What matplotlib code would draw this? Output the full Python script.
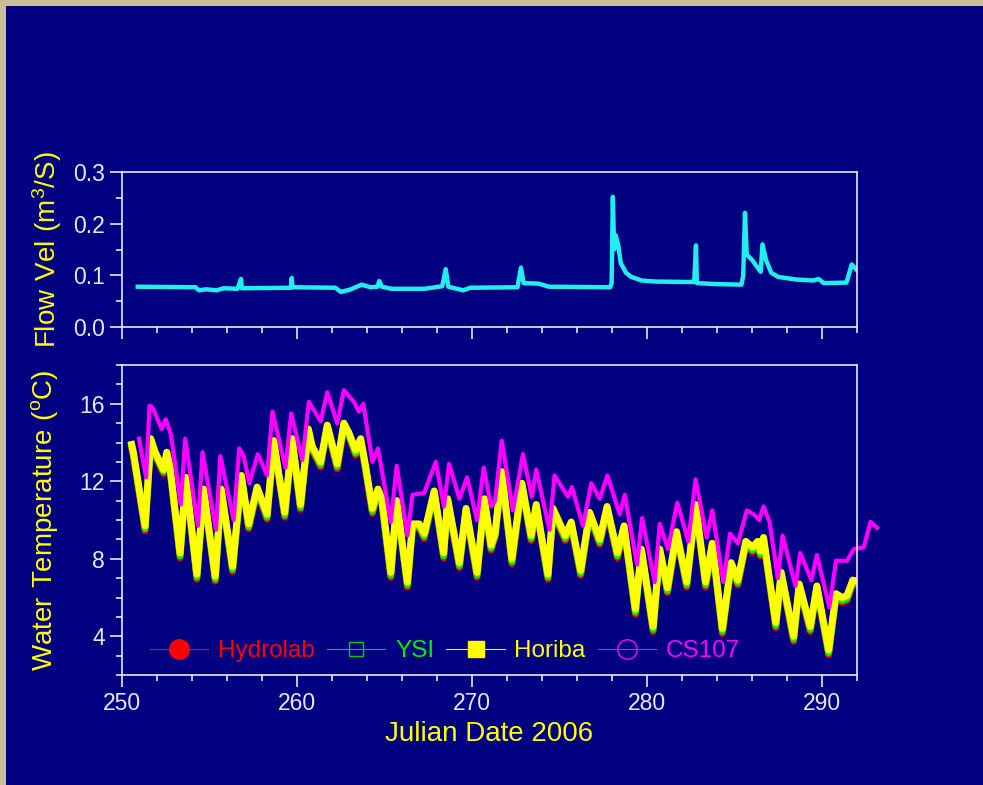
import matplotlib
matplotlib.use('Agg')
import matplotlib.pyplot as plt
from matplotlib.lines import Line2D
from matplotlib.patches import Rectangle
from matplotlib.ticker import MultipleLocator, FormatStrFormatter

plt.rcParams['font.family'] = ['Liberation Sans', 'DejaVu Sans']
plt.rcParams['mathtext.fontset'] = 'custom'
plt.rcParams['mathtext.rm'] = 'Liberation Sans'

# flow velocity (top panel)
flow_day = [250.9, 254.2, 254.4, 254.8, 255.4, 255.8, 256.6, 256.8, 256.85, 259.65,
            259.7, 259.75, 262.2, 262.5, 263.0, 263.7, 264.2, 264.6, 264.7, 264.85,
            265.4, 267.3, 268.3, 268.5, 268.65, 269.5, 269.9, 272.6, 272.8, 272.95,
            273.8, 274.4, 277.9, 277.98, 278.05, 278.12, 278.2, 278.35, 278.5, 278.8,
            279.1, 279.7, 280.5, 282.7, 282.8, 282.85, 284.0, 285.4, 285.5, 285.6,
            285.7, 286.0, 286.5, 286.6, 286.8, 287.1, 287.5, 288.5, 289.5, 289.8,
            290.1, 291.4, 291.7, 292.0]
flow_vel = [0.078, 0.077, 0.071, 0.073, 0.071, 0.075, 0.074, 0.093, 0.075, 0.076,
            0.095, 0.077, 0.076, 0.068, 0.072, 0.082, 0.077, 0.078, 0.089, 0.078,
            0.074, 0.074, 0.079, 0.112, 0.078, 0.071, 0.076, 0.077, 0.115, 0.085,
            0.084, 0.078, 0.077, 0.085, 0.252, 0.150, 0.178, 0.160, 0.124, 0.105,
            0.097, 0.090, 0.088, 0.087, 0.158, 0.085, 0.083, 0.082, 0.100, 0.221,
            0.140, 0.130, 0.107, 0.160, 0.130, 0.105, 0.097, 0.092, 0.090, 0.093,
            0.085, 0.086, 0.121, 0.110]

# water temperature, sondes share the same time stamps
sonde_day = [250.55, 250.65, 251.32, 251.64, 251.9, 252.37, 252.56, 252.75, 253.32, 253.65,
             254.28, 254.66, 255.33, 255.67, 256.32, 256.82, 257.24, 257.72, 258.29, 258.67,
             259.3, 259.72, 260.2, 260.65, 260.87, 261.35, 261.73, 262.3, 262.68, 262.97,
             263.35, 263.64, 263.92, 264.31, 264.63, 264.85, 265.36, 265.7, 266.31, 266.6,
             266.98, 267.27, 267.84, 268.38, 268.61, 269.28, 269.66, 270.29, 270.71, 271.09,
             271.32, 271.7, 272.28, 272.85, 273.38, 273.67, 274.34, 274.63, 275.33, 275.67,
             276.21, 276.72, 277.3, 277.72, 278.31, 278.69, 279.34, 279.68, 280.35, 280.73,
             281.17, 281.69, 282.27, 282.78, 283.35, 283.73, 284.31, 284.81, 285.19, 285.65,
             286.03, 286.33, 286.48, 286.66, 287.36, 287.67, 288.38, 288.7, 289.33, 289.71,
             290.38, 290.8, 291.15, 291.43, 291.76, 292.2]
hydrolab = [13.7, 13.3, 9.45, 14.0, 13.3, 12.4, 13.3, 12.5, 8.05, 12.0,
            6.95, 11.4, 6.85, 11.4, 7.35, 12.1, 9.55, 11.5, 10.05, 13.9,
            10.15, 14.0, 10.55, 14.5, 13.6, 12.75, 14.7, 12.65, 14.8, 14.3,
            13.35, 14.0, 12.55, 10.35, 11.4, 10.85, 7.05, 10.8, 6.55, 9.6,
            9.6, 9.05, 11.3, 8.05, 10.9, 7.55, 10.4, 7.05, 10.9, 8.45,
            9.1, 12.3, 7.75, 11.7, 8.95, 10.6, 6.95, 10.4, 8.95, 9.7,
            7.15, 10.2, 8.75, 10.5, 8.05, 9.5, 5.15, 8.3, 4.25, 8.3,
            6.25, 9.2, 6.55, 10.6, 6.55, 8.6, 4.15, 7.6, 6.65, 8.7,
            8.35, 8.7, 8.15, 8.9, 4.45, 7.1, 3.75, 6.5, 4.25, 6.4,
            3.05, 6.0, 5.75, 5.85, 6.7, 6.6]
ysi = [13.8, 13.4, 9.55, 14.1, 13.4, 12.5, 13.4, 12.6, 8.15, 12.1,
       7.05, 11.5, 6.95, 11.5, 7.45, 12.2, 9.65, 11.6, 10.15, 14.0,
       10.25, 14.1, 10.65, 14.6, 13.7, 12.85, 14.8, 12.75, 14.9, 14.4,
       13.45, 14.1, 12.65, 10.45, 11.5, 10.95, 7.15, 10.9, 6.65, 9.7,
       9.7, 9.15, 11.4, 8.15, 11.0, 7.65, 10.5, 7.15, 11.0, 8.55,
       9.2, 12.4, 7.85, 11.8, 9.05, 10.7, 7.05, 10.5, 9.05, 9.8,
       7.25, 10.3, 8.85, 10.6, 8.15, 9.6, 5.25, 8.4, 4.35, 8.4,
       6.35, 9.3, 6.65, 10.7, 6.65, 8.7, 4.25, 7.7, 6.75, 8.8,
       8.45, 8.8, 8.25, 9.0, 4.55, 7.2, 3.85, 6.6, 4.35, 6.5,
       3.15, 6.1, 5.85, 5.95, 6.8, 6.7]
horiba = [13.9, 13.5, 9.7, 14.2, 13.5, 12.6, 13.5, 12.7, 8.3, 12.2,
          7.2, 11.6, 7.1, 11.6, 7.6, 12.3, 9.8, 11.7, 10.3, 14.1,
          10.4, 14.2, 10.8, 14.7, 13.8, 13.0, 14.9, 12.9, 15.0, 14.5,
          13.6, 14.2, 12.8, 10.6, 11.6, 11.1, 7.3, 11.0, 6.8, 9.8,
          9.8, 9.3, 11.5, 8.3, 11.1, 7.8, 10.6, 7.3, 11.1, 8.7,
          9.3, 12.5, 8.0, 11.9, 9.2, 10.8, 7.2, 10.6, 9.2, 9.9,
          7.4, 10.4, 9.0, 10.7, 8.3, 9.7, 5.4, 8.5, 4.5, 8.5,
          6.5, 9.4, 6.8, 10.8, 6.8, 8.8, 4.4, 7.8, 6.9, 8.9,
          8.6, 8.9, 8.4, 9.1, 4.7, 7.3, 4.0, 6.7, 4.5, 6.6,
          3.3, 6.2, 6.0, 6.1, 6.9, 6.8]

cs_day = [250.97, 251.38, 251.57, 251.75, 252.27, 252.5, 252.8, 253.36, 253.61, 254.34,
          254.6, 255.37, 255.62, 256.38, 256.7, 256.95, 257.28, 257.76, 258.29, 258.6,
          259.34, 259.67, 260.3, 260.68, 261.35, 261.73, 262.3, 262.68, 263.25, 263.54,
          263.79, 264.31, 264.63, 265.36, 265.7, 266.31, 266.6, 267.27, 267.93, 268.4,
          268.69, 269.28, 269.72, 270.29, 270.67, 271.09, 271.32, 271.7, 272.34, 272.91,
          273.42, 273.67, 274.43, 274.72, 275.48, 275.71, 276.34, 276.82, 277.3, 277.74,
          278.44, 278.73, 279.43, 279.72, 280.44, 280.73, 281.2, 281.73, 282.36, 282.78,
          283.41, 283.73, 284.36, 284.75, 285.19, 285.71, 286.09, 286.41, 286.66, 287.0,
          287.48, 287.75, 288.48, 288.76, 289.39, 289.71, 290.42, 290.8, 291.43, 291.82,
          292.39, 292.77, 293.15]
cs107 = [14.2, 12.2, 15.9, 15.8, 14.7, 15.2, 14.4, 10.8, 14.2, 9.7,
         13.5, 9.5, 13.3, 10.0, 13.7, 13.3, 11.9, 13.4, 12.3, 15.6,
         12.7, 15.5, 13.1, 16.1, 15.1, 16.6, 15.0, 16.7, 16.1, 15.6,
         16.0, 13.0, 13.7, 9.9, 12.8, 9.2, 11.3, 11.4, 13.0, 10.7,
         12.9, 11.1, 12.2, 10.0, 12.7, 10.7, 11.0, 14.1, 10.5, 13.4,
         11.2, 12.6, 9.5, 12.3, 11.2, 11.7, 9.7, 11.9, 11.1, 12.3,
         10.3, 11.3, 7.7, 10.1, 6.8, 9.8, 8.5, 10.9, 8.9, 12.1,
         9.1, 10.5, 6.8, 9.3, 8.8, 10.5, 10.3, 10.0, 10.7, 9.9,
         7.0, 9.2, 6.6, 8.3, 6.9, 8.2, 5.5, 7.9, 7.9, 8.5,
         8.6, 9.9, 9.6]

navy = '#000080'
white = '#e8e8f0'

fig = plt.figure(figsize=(9.83, 7.85), dpi=100, facecolor='#c9bd98')
fig.patches.append(Rectangle((6 / 983, 0), 1, 1 - 6 / 785, transform=fig.transFigure,
                             facecolor=navy, edgecolor='none', zorder=-1))

ax1 = fig.add_axes([0.1241, 0.5834, 0.7477, 0.1975])
ax2 = fig.add_axes([0.1241, 0.1401, 0.7477, 0.3949])

for ax in (ax1, ax2):
    ax.set_facecolor(navy)
    for s in ax.spines.values():
        s.set_color(white)
        s.set_linewidth(1.2)
    ax.tick_params(which='both', direction='out', colors=white, labelsize=16.5, width=1.2)
    ax.tick_params(which='major', length=8.5, pad=4)
    ax.tick_params(which='minor', length=4.5)
    ax.set_xlim(250, 292)
    ax.xaxis.set_major_locator(MultipleLocator(10))
    ax.xaxis.set_minor_locator(MultipleLocator(2))

ax1.plot(flow_day, flow_vel, color='#22eeee', lw=3.2, solid_joinstyle='round')
ax1.set_ylim(0, 0.3)
ax1.yaxis.set_major_locator(MultipleLocator(0.1))
ax1.yaxis.set_minor_locator(MultipleLocator(0.05))
ax1.yaxis.set_major_formatter(FormatStrFormatter('%.1f'))
ax1.tick_params(axis='x', labelbottom=False)
ax1.set_ylabel('$\\mathregular{Flow\\ Vel\\ (m^3/S)}$', color='yellow', fontsize=20, labelpad=6)

ax2.plot(sonde_day, hydrolab, color='red', lw=5, solid_joinstyle='round')
ax2.plot(sonde_day, ysi, color='#00ee00', lw=5, solid_joinstyle='round')
ax2.plot(sonde_day, horiba, color='yellow', lw=5, solid_joinstyle='round')
ax2.plot(cs_day, cs107, color='magenta', lw=3, solid_joinstyle='round', clip_on=False)
ax2.set_ylim(2, 18)
ax2.yaxis.set_major_locator(MultipleLocator(4))
ax2.yaxis.set_minor_locator(MultipleLocator(1))
ax2.set_ylabel('$\\mathregular{Water\\ Temperature\\ (^oC)}$', color='yellow', fontsize=20, labelpad=14)
ax2.set_xlabel('Julian Date 2006', color='yellow', fontsize=20, labelpad=4)

handles = [
    Line2D([], [], color='red', lw=0.8, marker='o', ms=14, mfc='red', mec='red'),
    Line2D([], [], color='#00cc00', lw=0.8, marker='s', ms=10, mfc='none', mec='#00cc00'),
    Line2D([], [], color='yellow', lw=0.8, marker='s', ms=11, mfc='yellow', mec='yellow'),
    Line2D([], [], color='magenta', lw=0.8, marker='o', ms=14, mfc='none', mec='magenta'),
]
labels = ['Hydrolab', 'YSI', 'Horiba', 'CS107']
leg = ax2.legend(handles, labels, loc='center left', bbox_to_anchor=(0.038, 0.077),
                 ncol=4, frameon=False, fontsize=17.5, handlelength=2.4,
                 handletextpad=0.4, columnspacing=0.5, borderpad=0, borderaxespad=0)
for t, c in zip(leg.get_texts(), ['red', '#00ee00', 'yellow', 'magenta']):
    t.set_color(c)

fig.savefig('out.png', dpi=100, facecolor=fig.get_facecolor())
